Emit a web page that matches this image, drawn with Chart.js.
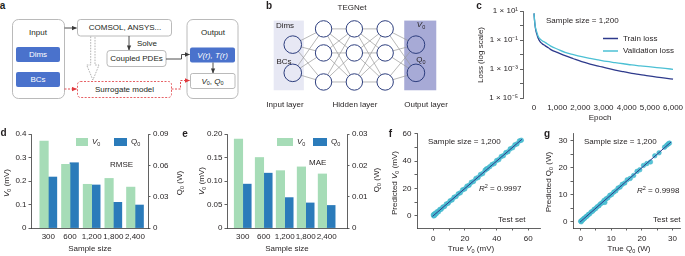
<!DOCTYPE html>
<html>
<head>
<meta charset="utf-8">
<script src="https://cdn.jsdelivr.net/npm/chart.js@4.4.1/dist/chart.umd.min.js"></script>
<style>
html, body { margin: 0; padding: 0; background: #fff; }
#fig { position: relative; width: 685px; height: 256px; overflow: hidden; font-family: 'Liberation Sans', Arial, sans-serif; color: #231f20; }
#fig canvas { position: absolute; }
.t { position: absolute; white-space: nowrap; font-size: 8px; line-height: 1; }
.c { transform: translate(-50%, -50%); }
.l { transform: translateY(-50%); }
.v { transform: translate(-50%, -50%) rotate(-90deg); }
.p { font-weight: bold; font-size: 10px; }
sub { font-size: 5.5px; vertical-align: -1.5px; line-height: 0; }
sup { font-size: 5.5px; vertical-align: 3px; line-height: 0; }
</style>
</head>
<body>
<div id="fig">

<!-- a: workflow schematic -->
<svg width="242" height="108" style="position:absolute;left:0;top:0" font-family="'Liberation Sans', Arial, sans-serif" font-size="8" fill="#231f20" text-anchor="middle">
  <defs>
    <marker id="ak" viewBox="0 0 6 6" refX="5.5" refY="3" markerWidth="5" markerHeight="5" markerUnits="userSpaceOnUse" orient="auto"><path d="M0,0.4 L6,3 L0,5.6z" fill="#3a3a3a"/></marker>
    <marker id="ar" viewBox="0 0 6 6" refX="5.5" refY="3" markerWidth="5" markerHeight="5" markerUnits="userSpaceOnUse" orient="auto"><path d="M0,0.4 L6,3 L0,5.6z" fill="#e0393e"/></marker>
  </defs>
  <g fill="none" stroke="#a8a8a8" stroke-width="0.8">
    <rect x="12.5" y="19.5" width="52" height="79" rx="6"/>
    <rect x="77.5" y="19.5" width="94" height="16.5" rx="3"/>
    <rect x="107" y="50.5" width="59" height="16" rx="3"/>
    <rect x="187" y="19.5" width="51" height="79" rx="6"/>
    <rect x="190.5" y="73.5" width="44.5" height="15" rx="2"/>
  </g>
  <rect x="77.5" y="81.5" width="94" height="16" rx="3" fill="none" stroke="#e0393e" stroke-width="0.8" stroke-dasharray="2 1.5"/>
  <g fill="#4a72cc">
    <rect x="16" y="47" width="44" height="15" rx="2"/>
    <rect x="16" y="72" width="44" height="15" rx="2"/>
    <rect x="190" y="47.5" width="45" height="15" rx="2"/>
  </g>
  <g fill="none" stroke="#3a3a3a" stroke-width="0.9">
    <path d="M64.5,28 H76.5" marker-end="url(#ak)"/>
    <path d="M129,36 V50" marker-end="url(#ak)"/>
    <path d="M166,59 H181.5 V54.5 H189.5" marker-end="url(#ak)"/>
    <path d="M213,62.5 V73" marker-end="url(#ak)"/>
  </g>
  <g fill="none" stroke="#e0393e" stroke-width="0.9" stroke-dasharray="2 1.5">
    <path d="M64.5,89 H76.5" marker-end="url(#ar)"/>
    <path d="M171.5,89 H180.5 V80.5 H189.5" marker-end="url(#ar)"/>
  </g>
  <path d="M90.7,36.5 V65 H86.7 L92.9,80 L99,65 H95 V36.5" fill="none" stroke="#a0a0a0" stroke-width="0.8" stroke-dasharray="1.6 1.2"/>
  <g dominant-baseline="central">
    <text x="38" y="32">Input</text>
    <text x="38" y="54.5" fill="#fff">Dims</text>
    <text x="38" y="79.5" fill="#fff">BCs</text>
    <text x="125" y="27.8">COMSOL, ANSYS...</text>
    <text x="137" y="43.5" text-anchor="start">Solve</text>
    <text x="136.5" y="58.7">Coupled PDEs</text>
    <text x="124.5" y="89.7">Surrogate model</text>
    <text x="213" y="32">Output</text>
    <text x="212.5" y="55.2" fill="#fff" font-style="italic">V(r), T(r)</text>
    <text x="212.5" y="81"><tspan font-style="italic">V</tspan><tspan font-size="5.5" dy="1.5">0</tspan><tspan dy="-1.5">, </tspan><tspan font-style="italic">Q</tspan><tspan font-size="5.5" dy="1.5">0</tspan></text>
  </g>
</svg>

<canvas id="net" width="225" height="115" style="left:230px;top:0"></canvas>
<canvas id="loss" width="230" height="125" style="left:455px;top:0"></canvas>
<canvas id="rmse" width="175" height="136" style="left:0;top:120px"></canvas>
<canvas id="mae" width="185" height="136" style="left:195px;top:120px"></canvas>
<canvas id="predV" width="165" height="136" style="left:380px;top:120px"></canvas>
<canvas id="predQ" width="145" height="136" style="left:540px;top:120px"></canvas>

<!-- panel letters -->
<div class="t c p" style="left:2.5px;top:6px">a</div>
<div class="t c p" style="left:269px;top:5.5px">b</div>
<div class="t c p" style="left:479px;top:5.5px">c</div>
<div class="t c p" style="left:3.5px;top:133px">d</div>
<div class="t c p" style="left:185px;top:133.5px">e</div>
<div class="t c p" style="left:390.5px;top:134px">f</div>
<div class="t c p" style="left:547px;top:134px">g</div>

<!-- b -->
<div class="t c" style="left:352px;top:8px">TEGNet</div>
<div class="t c" style="left:285px;top:26px">Dims</div>
<div class="t c" style="left:284px;top:61.5px">BCs</div>
<div class="t c" style="left:421px;top:25px"><i>V</i><sub>0</sub></div>
<div class="t c" style="left:421px;top:60px">Q<sub>0</sub></div>
<div class="t c" style="left:285px;top:104.5px">Input layer</div>
<div class="t c" style="left:355px;top:104.5px">Hidden layer</div>
<div class="t c" style="left:426px;top:104.5px">Output layer</div>

<!-- c -->
<div class="t l" style="left:546px;top:21px">Sample size = 1,200</div>
<div class="t l" style="left:623px;top:38.5px">Train loss</div>
<div class="t l" style="left:623px;top:51px">Validation loss</div>
<div class="t v" style="left:481px;top:55px">Loss (log scale)</div>
<div class="t c" style="left:600px;top:118px">Epoch</div>

<!-- d -->
<div class="t v" style="left:7px;top:183px"><i>V</i><sub>0</sub> (mV)</div>
<div class="t v" style="left:180px;top:183px">Q<sub>0</sub> (W)</div>
<div class="t c" style="left:90px;top:249px">Sample size</div>
<div class="t l" style="left:92px;top:142px"><i>V</i><sub>0</sub></div>
<div class="t l" style="left:131px;top:142px">Q<sub>0</sub></div>
<div class="t l" style="left:110px;top:165px">RMSE</div>

<!-- e -->
<div class="t v" style="left:202px;top:181px"><i>V</i><sub>0</sub> (mV)</div>
<div class="t v" style="left:377px;top:180px">Q<sub>0</sub> (W)</div>
<div class="t c" style="left:287px;top:249px">Sample size</div>
<div class="t l" style="left:297px;top:142px"><i>V</i><sub>0</sub></div>
<div class="t l" style="left:331px;top:142px">Q<sub>0</sub></div>
<div class="t l" style="left:309px;top:163px">MAE</div>

<!-- f -->
<div class="t v" style="left:395px;top:183px">Predicted <i>V</i><sub>0</sub> (mV)</div>
<div class="t c" style="left:471px;top:249px">True <i>V</i><sub>0</sub> (mV)</div>
<div class="t l" style="left:428px;top:142px">Sample size = 1,200</div>
<div class="t l" style="left:479px;top:189px"><i>R</i><sup>2</sup> = 0.9997</div>
<div class="t l" style="left:498px;top:220px">Test set</div>

<!-- g -->
<div class="t v" style="left:549px;top:182px">Predicted Q<sub>0</sub> (W)</div>
<div class="t c" style="left:629px;top:249px">True Q<sub>0</sub> (W)</div>
<div class="t l" style="left:584px;top:142px">Sample size = 1,200</div>
<div class="t l" style="left:637px;top:191px"><i>R</i><sup>2</sup> = 0.9998</div>
<div class="t l" style="left:653px;top:220px">Test set</div>
</div>

<script>
// ---- data ----

// b: TEGNet layout (nodes per layer, node rows)
const layerSizes = [2, 3, 3, 3, 2];
const ioRows = [42, 76];
const hiddenRows = [23, 52, 87];

// c: loss curves
const epochs = [0, 20, 45, 80, 115, 150, 190, 260, 350, 475, 620, 765, 1000, 1340, 1700, 2060, 2420, 2780, 3140, 3500, 3860, 4220, 4580, 4940, 5300, 5660, 6000];
const trainLoss = [6.9, 2.5, 1.0, 0.45, 0.28, 0.18, 0.12, 0.078, 0.056, 0.041, 0.029, 0.020, 0.014, 8.3e-3, 5.1e-3, 3.2e-3, 2.2e-3, 1.6e-3, 1.15e-3, 8.5e-4, 6.5e-4, 5.0e-4, 4.1e-4, 3.3e-4, 2.75e-4, 2.35e-4, 2.0e-4];
const valLoss = [6.9, 2.8, 1.1, 0.56, 0.37, 0.24, 0.166, 0.117, 0.089, 0.069, 0.049, 0.035, 0.024, 0.014, 9.8e-3, 7.1e-3, 5.4e-3, 4.2e-3, 3.3e-3, 2.75e-3, 2.3e-3, 1.9e-3, 1.66e-3, 1.45e-3, 1.26e-3, 1.1e-3, 9.5e-4];
const epochTicks = [0, 1000, 2000, 3000, 4000, 5000, 6000];
const epochLabels = ['0', '1,000', '2,000', '3,000', '4,000', '5,000', '6,000'];
const lossTicks = [1e-5, 1e-4, 1e-3, 1e-2, 1e-1, 1, 10];
const lossLabels = ['1 × 10⁻⁵', '', '1 × 10⁻³', '', '1 × 10⁻¹', '', '1 × 10¹'];

// d, e: error vs sample size
const sampleSizes = ['300', '600', '1,200', '1,800', '2,400'];
const sampleTicks = [0, 1, 2, 3, 4];
const rmseV = [0.370, 0.271, 0.186, 0.211, 0.174];
const rmseQ = [0.0488, 0.0625, 0.0412, 0.0246, 0.0220];
const maeV = [0.189, 0.150, 0.122, 0.130, 0.115];
const maeQ = [0.0140, 0.0175, 0.0097, 0.0080, 0.0072];

// f: predicted vs true V0 (mV)
const trueV = [0, 0.3, 0.6, 1.0, 1.4, 2.0, 2.6, 3.3, 4.1, 5.0, 6.0, 7.1, 8.2, 9.4, 10.6, 11.9, 13.1, 14.4, 15.8, 17.1, 18.5, 19.9, 21.2, 22.6, 24.0, 25.4, 26.9, 28.3, 29.8, 31.2, 32.7, 33.5, 34.2, 35.6, 37.1, 38.5, 40.0, 41.4, 42.9, 44.3, 45.8, 47.2, 48.6, 50.1, 51.5, 52.9, 54.4, 55.6];
const predV = [0.6, -0.2, 1.2, 0.4, 2.0, 1.6, 3.1, 2.9, 4.6, 4.7, 6.3, 6.8, 8.6, 9.1, 10.9, 11.6, 13.5, 14.1, 16.1, 16.8, 18.9, 19.6, 21.6, 22.3, 24.4, 25.1, 27.3, 28.0, 30.2, 30.9, 33.3, 34.2, 34.6, 35.9, 37.5, 38.2, 40.4, 41.1, 43.3, 44.0, 46.2, 46.9, 49.0, 49.8, 51.9, 52.6, 54.8, 55.3];
const fitV = [[-0.5, -0.5], [56, 56]];
const vTicks = [0, 10, 20, 30, 40, 50, 60];
const vLabels = ['0', '', '20', '', '40', '', '60'];

// g: predicted vs true Q0 (W)
const trueQ = [0.0, 0.2, 0.4, 0.7, 1.0, 1.3, 1.7, 2.1, 2.5, 2.9, 3.4, 3.9, 4.4, 4.9, 5.4, 6.0, 6.5, 7.1, 7.6, 7.9, 8.3, 8.9, 9.5, 10.1, 10.8, 11.5, 12.2, 12.9, 13.6, 14.4, 15.2, 16.2, 17.3, 18.4, 19.3, 20.5, 21.6, 22.8, 24.2, 25.6, 27.4, 28.1, 28.6, 29.0];
const predQ = [0.1, -0.1, 0.5, 0.6, 1.1, 1.2, 1.8, 2.0, 2.6, 2.8, 3.5, 3.8, 4.5, 4.8, 5.5, 5.9, 6.6, 7.0, 7.8, 7.1, 8.4, 8.8, 9.7, 10.0, 10.9, 11.4, 12.4, 12.8, 13.8, 14.3, 15.5, 16.0, 17.1, 18.6, 19.2, 20.8, 21.5, 22.1, 24.4, 25.5, 27.6, 28.3, 28.8, 29.1];
const fitQ = [[-0.2, -0.2], [29.5, 29.5]];
const qTicks = [0, 5, 10, 15, 20, 25, 30];
const qLabels = ['0', '', '10', '', '20', '', '30'];

// ---- styling ----
Chart.defaults.font.family = "'Liberation Sans', Arial, sans-serif";
Chart.defaults.font.size = 8;
Chart.defaults.color = '#231f20';
Chart.defaults.animation = false;
Chart.defaults.events = [];
Chart.defaults.plugins.legend.display = false;
Chart.defaults.plugins.tooltip.enabled = false;

const INK = '#3a3a3a';
const NAVY = '#2e3a8c';
const CYAN = '#4cc0d4';
const MINT = '#a6dcb7';
const BLUE = '#2b7bba';

// fixed axis boxes so every plot area lands where the figure has it
const fixW = w => s => { s.width = w; s.paddingTop = 0; s.paddingBottom = 0; };
const fixH = h => s => { s.height = h; s.paddingLeft = 0; s.paddingRight = 0; };
const setTicks = vals => s => { s.ticks = vals.map(value => ({ value })); };
const axisLine = { display: true, color: INK, width: 0.8 };
const tickMarks = { drawOnChartArea: false, drawTicks: true, tickLength: 2.5, color: INK, lineWidth: 0.8 };
const noGrid = { display: false, drawTicks: false };

// legend keys drawn from the datasets' own colours
const swatches = {
    id: 'swatches',
    afterDatasetsDraw(chart, args, opts) {
        const ctx = chart.ctx;
        (opts.items || []).forEach(it => {
            const ds = chart.data.datasets[it.ds];
            ctx.save();
            if (it.line) {
                ctx.strokeStyle = ds.borderColor;
                ctx.lineWidth = 1.5;
                ctx.beginPath();
                ctx.moveTo(it.x, it.y);
                ctx.lineTo(it.x + it.w, it.y);
                ctx.stroke();
            } else {
                ctx.fillStyle = ds.backgroundColor;
                ctx.fillRect(it.x, it.y, it.w, it.h);
            }
            ctx.restore();
        });
    }
};
Chart.register(swatches);

// shaded input/output layer bands in panel b
const layerBands = {
    id: 'layerBands',
    beforeDatasetsDraw(chart, args, opts) {
        const { ctx, scales: { x, y } } = chart;
        (opts.bands || []).forEach(b => {
            const x0 = x.getPixelForValue(b.from), x1 = x.getPixelForValue(b.to);
            const y0 = y.getPixelForValue(b.top), y1 = y.getPixelForValue(b.bottom);
            ctx.fillStyle = b.color;
            ctx.fillRect(x0, y0, x1 - x0, y1 - y0);
        });
    }
};

// ---- b: network ----
const nodeFill = ['#e7e8f4', '#ffffff', '#ffffff', '#ffffff', '#a7aad6'];
const nodes = [], fills = [], radii = [];
const layerNodes = layerSizes.map((n, li) => (n === 2 ? ioRows : hiddenRows).map(row => ({ x: li, y: row })));
layerNodes.forEach((pts, li) => pts.forEach(p => {
    nodes.push(p);
    fills.push(nodeFill[li]);
    radii.push(pts.length === 2 ? 8.8 : 8.2);
}));
const edges = [];
for (let li = 0; li < layerNodes.length - 1; li++) {
    layerNodes[li].forEach(a => layerNodes[li + 1].forEach(b => {
        edges.push({ data: [a, b], showLine: true, borderColor: '#9a9a9a', borderWidth: 0.7, pointRadius: 0 });
    }));
}
new Chart(document.getElementById('net'), {
    type: 'scatter',
    data: {
        datasets: [
            { data: nodes, pointRadius: radii, pointBackgroundColor: fills, pointBorderColor: '#2d3e7e', pointBorderWidth: 1 },
            ...edges,
        ],
    },
    options: {
        responsive: false,
        layout: { padding: 0 },
        scales: {
            x: { type: 'linear', display: false, min: -1.72, max: 4.95 },
            y: { type: 'linear', display: false, min: 0, max: 115, reverse: true },
        },
        plugins: {
            layerBands: {
                bands: [
                    { from: -0.62, to: 0.36, top: 13, bottom: 97, color: '#e7e8f4' },
                    { from: 3.62, to: 4.66, top: 13, bottom: 97, color: '#a7aad6' },
                ],
            },
        },
    },
    plugins: [layerBands],
});

// ---- c: loss ----
new Chart(document.getElementById('loss'), {
    type: 'line',
    data: {
        datasets: [
            { label: 'Validation loss', data: epochs.map((x, i) => ({ x, y: valLoss[i] })), borderColor: CYAN, borderWidth: 1.3, pointRadius: 0, cubicInterpolationMode: 'monotone' },
            { label: 'Train loss', data: epochs.map((x, i) => ({ x, y: trainLoss[i] })), borderColor: NAVY, borderWidth: 1.3, pointRadius: 0, cubicInterpolationMode: 'monotone' },
        ],
    },
    options: {
        responsive: false,
        layout: { padding: { top: 11, right: 5, left: 0, bottom: 0 } },
        scales: {
            x: {
                type: 'linear', min: -475, max: 6300,
                afterBuildTicks: setTicks(epochTicks), afterFit: fixH(27),
                border: { display: false }, grid: noGrid,
                ticks: { autoSkip: false, maxRotation: 0, padding: 5, callback: (v, i) => epochLabels[i] },
            },
            y: {
                type: 'logarithmic', min: 1e-5, max: 10,
                afterBuildTicks: setTicks(lossTicks), afterFit: fixW(68),
                border: axisLine, grid: { ...tickMarks, tickLength: 3 },
                ticks: { autoSkip: false, padding: 2, callback: (v, i) => lossLabels[i] },
            },
        },
        plugins: {
            swatches: { items: [{ ds: 1, line: true, x: 148, y: 38.5, w: 15 }, { ds: 0, line: true, x: 148, y: 51, w: 15 }] },
        },
    },
});

// ---- d, e: error bars ----
function errorPanel(id, vVals, qVals, o) {
    return new Chart(document.getElementById(id), {
        type: 'bar',
        data: {
            datasets: [
                { label: 'V0', data: vVals.map((y, x) => ({ x, y })), backgroundColor: MINT, yAxisID: 'y', barThickness: 8.5 },
                { label: 'Q0', data: qVals.map((y, x) => ({ x, y })), backgroundColor: BLUE, yAxisID: 'y1', barThickness: 8.5 },
            ],
        },
        options: {
            responsive: false,
            layout: { padding: { top: 14, left: 0, right: 0, bottom: 0 } },
            scales: {
                x: {
                    type: 'linear', offset: false, min: o.xMin, max: o.xMax,
                    afterBuildTicks: setTicks(sampleTicks), afterFit: fixH(28),
                    border: axisLine, grid: noGrid,
                    ticks: { autoSkip: false, maxRotation: 0, padding: 4, callback: (v, i) => sampleSizes[i] },
                },
                y: {
                    position: 'left', min: 0, max: o.vMax,
                    afterBuildTicks: setTicks(o.vTicks), afterFit: fixW(o.leftW),
                    border: axisLine, grid: tickMarks,
                    ticks: { autoSkip: false, padding: 2, callback: (v, i) => o.vLabels[i] },
                },
                y1: {
                    position: 'right', min: 0, max: o.qMax,
                    afterBuildTicks: setTicks(o.qTicks), afterFit: fixW(o.rightW),
                    border: axisLine, grid: tickMarks,
                    ticks: { autoSkip: false, padding: 2.5, callback: (v, i) => o.qLabels[i] },
                },
            },
            plugins: { swatches: { items: o.keys } },
        },
    });
}

errorPanel('rmse', rmseV, rmseQ, {
    xMin: -0.8, xMax: 4.6, leftW: 31, rightW: 27,
    vMax: 0.4, vTicks: [0, 0.1, 0.2, 0.3, 0.4], vLabels: ['0', '0.1', '0.2', '0.3', '0.4'],
    qMax: 0.09, qTicks: [0, 0.03, 0.06, 0.09], qLabels: ['0', '0.03', '0.06', '0.09'],
    keys: [{ ds: 0, x: 76, y: 18, w: 12, h: 8 }, { ds: 1, x: 114, y: 18, w: 13, h: 8 }],
});

errorPanel('mae', maeV, maeQ, {
    xMin: -0.75, xMax: 4.97, leftW: 32, rightW: 33,
    vMax: 0.2, vTicks: [0, 0.05, 0.1, 0.15, 0.2], vLabels: ['0', '0.05', '0.10', '0.15', '0.20'],
    qMax: 0.03, qTicks: [0, 0.01, 0.02, 0.03], qLabels: ['0', '0.01', '0.02', '0.03'],
    keys: [{ ds: 0, x: 82, y: 18, w: 16, h: 8 }, { ds: 1, x: 118, y: 18, w: 14, h: 8 }],
});

// ---- f, g: parity plots ----
function parityPanel(id, tru, pred, fit, o) {
    return new Chart(document.getElementById(id), {
        type: 'scatter',
        data: {
            datasets: [
                { data: fit.map(([x, y]) => ({ x, y })), showLine: true, borderColor: NAVY, borderWidth: 1, pointRadius: 0 },
                { data: tru.map((x, i) => ({ x, y: pred[i] })), pointRadius: 2.3, backgroundColor: 'rgba(76,192,212,0.95)', borderColor: '#3bb0c6', borderWidth: 0.5 },
            ],
        },
        options: {
            responsive: false,
            layout: { padding: { top: 13, right: o.right, left: 0, bottom: 0 } },
            scales: {
                x: {
                    type: 'linear', min: o.xMin, max: o.xMax,
                    afterBuildTicks: setTicks(o.ticks), afterFit: fixH(28),
                    border: axisLine, grid: tickMarks,
                    ticks: { autoSkip: false, maxRotation: 0, padding: 3, callback: (v, i) => o.labels[i] },
                },
                y: {
                    type: 'linear', min: o.yMin, max: o.yMax,
                    afterBuildTicks: setTicks(o.ticks), afterFit: fixW(o.leftW),
                    border: axisLine, grid: tickMarks,
                    ticks: { autoSkip: false, padding: 3, callback: (v, i) => o.labels[i] },
                },
            },
        },
    });
}

parityPanel('predV', trueV, predV, fitV, {
    xMin: -10.3, xMax: 67.4, yMin: -9, yMax: 60.6, leftW: 37, right: 5, ticks: vTicks, labels: vLabels,
});

parityPanel('predQ', trueQ, predQ, fitQ, {
    xMin: -2.5, xMax: 32.6, yMin: -2.4, yMax: 32.85, leftW: 33, right: 0, ticks: qTicks, labels: qLabels,
});
</script>
</body>
</html>
